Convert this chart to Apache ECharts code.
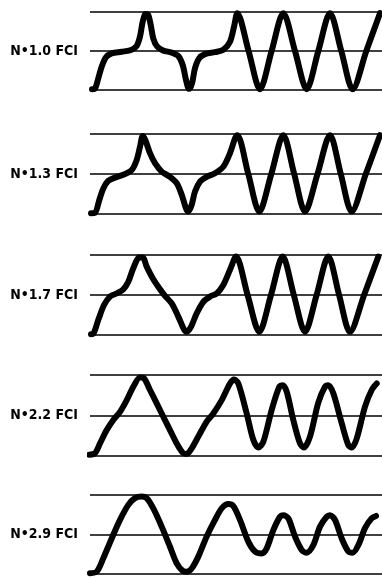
<!DOCTYPE html>
<html>
<head>
<meta charset="utf-8">
<script src="https://cdn.jsdelivr.net/npm/echarts@6/dist/echarts.min.js"></script>
<style>
  html, body { margin: 0; padding: 0; background: #fff; }
  #chart { width: 382px; height: 578px; }
</style>
</head>
<body>
<div id="chart"></div>
<script>
// panel labels (top to bottom)
var labels = ['N\u20221.0 FCI', 'N\u20221.3 FCI', 'N\u20221.7 FCI', 'N\u20222.2 FCI', 'N\u20222.9 FCI'];

// traces: [time, level], level 0 = bottom line, 1 = middle, 2 = top
var trace10 = [
    [92, 0.02], [95, 0.04], [98.3, 0.30], [101.7, 0.60], [106, 0.84], [111.7, 0.94], [121.7, 0.98],
    [131.7, 1.03], [136.7, 1.13], [140, 1.37], [142.7, 1.75], [145.7, 1.95], [148.3, 1.92],
    [150.7, 1.67], [153.3, 1.32], [157.3, 1.11], [163.3, 1.01], [171.7, 0.96], [178.3, 0.87],
    [182.7, 0.64], [186, 0.26], [189, 0.03], [192, 0.17], [195, 0.56], [199, 0.81], [205, 0.92],
    [215, 0.97], [223.3, 1.03], [230, 1.24], [234, 1.62], [237.3, 1.97],
    [248.6, 1.0], [260, 0.02], [271.6, 1.0], [283.3, 1.97], [295, 1.0], [306.7, 0.02],
    [318.3, 1.0], [330, 1.97], [341.3, 1.0], [352.7, 0.02], [366.3, 1.0], [380, 1.97]
];
var trace13 = [
    [91, 0.02], [95, 0.03], [99.3, 0.35], [103.3, 0.64], [108.3, 0.83], [115, 0.91], [123.3, 0.98],
    [131.7, 1.10], [136.7, 1.35], [140, 1.68], [142.7, 1.95], [145.3, 1.85], [150, 1.52],
    [155, 1.27], [161.7, 1.06], [170, 0.93], [176.7, 0.77], [181.7, 0.48], [186, 0.14],
    [188.3, 0.06], [191.7, 0.23], [195, 0.56], [200, 0.81], [206.7, 0.93], [215, 1.02],
    [223.3, 1.18], [230, 1.52], [235, 1.89], [237.3, 1.97],
    [248.3, 1.0], [259.3, 0.06], [271.3, 1.0], [283.3, 1.97], [294.2, 1.0], [305, 0.06],
    [317.5, 1.0], [330, 1.97], [340.8, 1.0], [351.7, 0.06], [365.8, 1.0], [380, 1.97]
];
var trace17 = [
    [91, 0.02], [93.3, 0.03], [98.3, 0.38], [104, 0.75], [110, 0.96], [116.7, 1.04], [123.3, 1.14],
    [128.3, 1.33], [133.3, 1.67], [139.3, 1.94], [142.7, 1.94], [146.7, 1.71], [152.7, 1.42],
    [159.3, 1.17], [165, 0.98], [171.7, 0.79], [178.3, 0.46], [184, 0.14], [186.7, 0.08],
    [190.7, 0.19], [196.7, 0.54], [203.3, 0.83], [210, 0.96], [216.7, 1.04], [223.3, 1.25],
    [230, 1.63], [236, 1.96],
    [247.6, 1.0], [259.3, 0.08], [271, 1.0], [282.7, 1.96], [293.8, 1.0], [305, 0.08],
    [316.6, 1.0], [328.3, 1.96], [339.1, 1.0], [350, 0.08], [364.1, 1.0], [378.3, 1.96]
];
var trace22 = [
    [89.3, 0.03], [95, 0.07], [100, 0.31], [106.7, 0.64], [113.3, 0.89], [120, 1.09], [126.7, 1.38],
    [133.3, 1.71], [140, 1.94], [144, 1.92], [150, 1.63], [156.7, 1.30], [163.3, 0.97],
    [170, 0.64], [176.7, 0.31], [182.7, 0.08], [186.7, 0.05], [191.7, 0.19], [198.3, 0.48],
    [206.7, 0.85], [213.3, 1.05], [221.7, 1.38], [230, 1.79], [234, 1.89], [238.3, 1.79],
    [246.7, 1.05], [253.3, 0.40], [258.3, 0.21], [263.3, 0.35], [271.7, 1.14], [279.3, 1.71],
    [282.7, 1.75], [286.7, 1.59], [293.3, 0.89], [300, 0.31], [304, 0.21], [310, 0.48],
    [318.3, 1.32], [325, 1.71], [328.3, 1.75], [333.3, 1.55], [341.7, 0.81], [348.3, 0.27],
    [351.7, 0.21], [356.7, 0.43], [365, 1.22], [371.7, 1.63], [376.7, 1.79]
];
var trace29 = [
    [90, 0.02], [96.7, 0.06], [103.3, 0.40], [111.7, 0.90], [120, 1.37], [128.3, 1.75], [135, 1.92],
    [141.7, 1.96], [146.7, 1.92], [153.3, 1.66], [161.7, 1.20], [170, 0.69], [176.7, 0.27],
    [182.7, 0.08], [186.7, 0.06], [191.7, 0.14], [198.3, 0.44], [206.7, 0.95], [215, 1.37],
    [221.7, 1.66], [228.3, 1.77], [233.3, 1.72], [240, 1.37], [248.3, 0.82], [255, 0.57],
    [261.7, 0.52], [266.7, 0.65], [273.3, 1.11], [280, 1.45], [283.3, 1.49], [288.3, 1.41],
    [295, 0.95], [301.7, 0.61], [306.7, 0.54], [313.3, 0.73], [320, 1.20], [326.7, 1.45],
    [330, 1.49], [335, 1.37], [341.7, 0.90], [348.3, 0.57], [352.7, 0.54], [358.3, 0.73],
    [365, 1.16], [371.7, 1.41], [376, 1.47]
];
var traces = [trace10, trace13, trace17, trace22, trace29];

// panel placement
var tops = [12, 134, 255, 375, 495];
var heights = [78, 80, 80, 81, 79];

var grids = [], xAxes = [], yAxes = [], series = [];
for (var i = 0; i < traces.length; i++) {
    grids.push({ left: 90, right: 0, top: tops[i], height: heights[i] });
    xAxes.push({
        type: 'value', gridIndex: i, min: 90, max: 382,
        show: false
    });
    yAxes.push({
        type: 'value', gridIndex: i, min: 0, max: 2, interval: 1,
        name: labels[i],
        nameLocation: 'middle',
        nameRotate: 0,
        nameGap: 12,
        nameTextStyle: {
            align: 'right',
            verticalAlign: 'middle',
            color: '#000',
            fontSize: 14,
            fontWeight: 'bold',
            fontFamily: "'Liberation Sans Narrow', 'DejaVu Sans Condensed', sans-serif",
            padding: [3, 0, 0, 0]
        },
        axisLine: { show: false },
        axisTick: { show: false },
        axisLabel: { show: false },
        splitLine: { show: true, lineStyle: { color: '#000', width: 1.5 } }
    });
    series.push({
        type: 'line',
        xAxisIndex: i,
        yAxisIndex: i,
        data: traces[i],
        smooth: 0.3,
        symbol: 'none',
        clip: false,
        lineStyle: { color: '#000', width: 6, cap: 'round', join: 'round' }
    });
}

var myChart = echarts.init(document.getElementById('chart'));
myChart.setOption({
    backgroundColor: '#fff',
    animation: false,
    grid: grids,
    xAxis: xAxes,
    yAxis: yAxes,
    series: series
});
</script>
</body>
</html>
